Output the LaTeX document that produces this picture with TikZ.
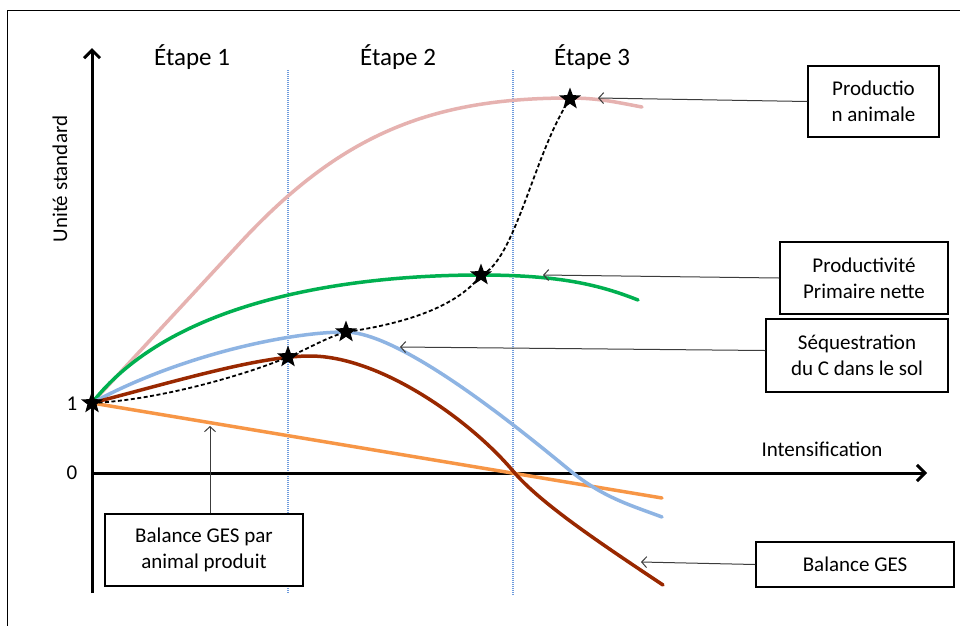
\documentclass[tikz,border=0pt]{standalone}
\usepackage{fontspec}
\setmainfont{Carlito}
\usetikzlibrary{arrows.meta,shapes.geometric}
\definecolor{prodpink}{RGB}{230,178,176}
\definecolor{ppngreen}{RGB}{0,176,80}
\definecolor{seqblue}{RGB}{142,180,227}
\definecolor{gesred}{RGB}{153,40,0}
\definecolor{gesorange}{RGB}{247,150,70}
\definecolor{stageblue}{RGB}{110,155,220}
\definecolor{callgray}{RGB}{60,60,60}
\begin{document}
\begin{tikzpicture}[x=1pt,y=-1pt,
  axis/.style={line width=3pt,-{Straight Barb[length=8pt,width=16pt,line width=3pt]}},
  curve/.style={line width=3.5pt,line cap=round,line join=round},
  pathline/.style={line width=1.8pt,dash pattern=on 4pt off 2.5pt},
  stagesep/.style={stageblue,line width=1.2pt,dash pattern=on 1pt off 1pt},
  callout/.style={draw=black,line width=1.3pt,fill=white,align=center,inner sep=0pt,
    font=\fontsize{21}{26}\selectfont},
  callarrow/.style={callgray,line width=1pt,-{Straight Barb[length=5pt,width=11pt]}},
  stagelabel/.style={font=\fontsize{25}{30}\selectfont},
  axislabel/.style={font=\fontsize{21}{26}\selectfont},
  mark star/.style={star,star points=5,star point ratio=2.4,fill=black,
    minimum size=23pt,inner sep=0pt}]
\useasboundingbox (0,0) rectangle (960,625);
\fill[white] (0,0) rectangle (960,625);
% outer frame
\draw[line width=1pt] (7,640) -- (7,10) -- (975,10);

% stage separators
\draw[stagesep] (288,70) -- (288,593);
\draw[stagesep] (513,70) -- (513,595);

% stage titles
\node[stagelabel] (s1) at (192,57) {Étape 1};
\node[stagelabel] (s2) at (398,57) {Étape 2};
\node[stagelabel] (s3) at (592,57) {Étape 3};

% axes
\coordinate (ybot) at (92,593);
\coordinate (ytop) at (92,48);
\coordinate (xleft) at (92,473);
\coordinate (xright) at (927,473);
\draw[axis] (ybot) -- (ytop);
\draw[axis] (xleft) -- (xright);
\node[axislabel,rotate=90] (ylab) at (60,179) {Unité standard};
\node[axislabel] (xlab) at (822,449) {Intensification};
\node[axislabel] (one) at (72,404) {1};
\node[axislabel] (zero) at (72,473) {0};

% curves
\draw[curve,prodpink] (92,403) -- (240,243)
  .. controls (340,135) and (430,98) .. (570,98)
  .. controls (600,98) and (620,103) .. (642,107);
\draw[curve,ppngreen] (92,403) .. controls (180,290) and (380,275) .. (480,275)
  .. controls (560,275) and (600,285) .. (638,300);
\draw[curve,gesorange] (92,403) -- (662,498);
\draw[curve,seqblue] (92,403) .. controls (180,355) and (290,332) .. (345,332)
  .. controls (400,332) and (515,425) .. (573,473)
  .. controls (605,498) and (630,505) .. (662,517);
\draw[curve,gesred] (92,403) .. controls (180,380) and (260,356) .. (310,356)
  .. controls (380,356) and (470,420) .. (513,471)
  .. controls (540,503) and (600,543) .. (663,585);

% intensification trajectory
\draw[pathline] (92,403) .. controls (160,400) and (248,374) .. (288,357)
  .. controls (310,348) and (325,338) .. (346,332)
  .. controls (395,325) and (455,310) .. (481,275)
  .. controls (515,262) and (535,150) .. (570,99);

% trajectory stars
\node[mark star] (p0) at (92,403) {};
\node[mark star] (p1) at (288,357) {};
\node[mark star] (p2) at (346,332) {};
\node[mark star] (p3) at (481,275) {};
\node[mark star] (p4) at (570,99) {};

% callouts
\node[callout,minimum width=131pt,minimum height=71pt] (b1) at (873.5,101.5) {Productio\\n animale};
\node[callout,minimum width=168pt,minimum height=72pt] (b2) at (864,278) {Productivité\\Primaire nette};
\node[callout,minimum width=182pt,minimum height=73pt] (b3) at (857,355.5) {Séquestration\\du C dans le sol};
\node[callout,minimum width=198pt,minimum height=45pt] (b4) at (855,564.5) {Balance GES};
\node[callout,minimum width=198pt,minimum height=72pt] (b5) at (204,550) {Balance GES par\\animal produit};

\coordinate (t1) at (598,98);
\coordinate (t2) at (543,275);
\coordinate (t3) at (400,347);
\coordinate (t4) at (641,562);
\coordinate (t5) at (210,426);
\draw[callarrow] (b1.west) -- (t1);
\draw[callarrow] (b2.west) -- (t2);
\draw[callarrow] (b3.west) ++(0,-5) -- (t3);
\draw[callarrow] (b4.west) -- (t4);
\draw[callarrow] (b5.north -| t5) -- (t5);
\end{tikzpicture}
\end{document}
